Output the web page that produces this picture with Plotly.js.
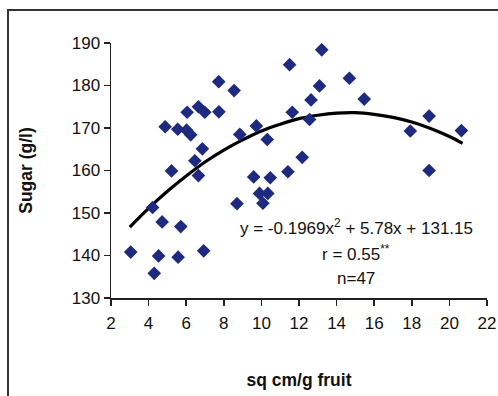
<!DOCTYPE html>
<html>
<head>
<meta charset="utf-8">
<script src="https://cdn.plot.ly/plotly-3.0.1.min.js"></script>
<style>
  html, body { margin: 0; padding: 0; background: #fff; }
  #wrap { position: relative; width: 498px; height: 396px; overflow: hidden; }
  #frame { position: absolute; left: 7px; top: 9px; width: 600px; height: 600px;
           border-left: 2px solid #333; border-top: 2px solid #333; pointer-events: none; }
  #chart { position: absolute; left: 0; top: 0; width: 498px; height: 396px; }
</style>
</head>
<body>
<div id="wrap">
  <div id="chart"></div>
  <div id="frame"></div>
</div>
<script>
// Scatter data: sq cm/g fruit vs sugar (g/l)
var areaX = [3.05, 4.21, 4.30, 4.53, 4.72, 4.88, 5.22, 5.55, 5.57, 5.71,
             6.02, 6.05, 6.24, 6.46, 6.65, 6.65, 6.86, 6.93, 6.99, 7.73,
             7.74, 8.55, 8.70, 8.85, 9.59, 9.73, 9.90, 10.08, 10.31, 10.34,
             10.47, 11.41, 11.50, 11.64, 12.17, 12.56, 12.64, 13.09, 13.21, 14.68,
             15.47, 17.92, 18.92, 18.92, 20.64];
var sugarY = [140.8, 151.3, 135.8, 139.9, 147.9, 170.3, 159.9, 169.7, 139.6, 146.8,
              169.5, 173.7, 168.4, 162.3, 175.0, 158.8, 165.1, 141.1, 173.7, 180.9,
              173.8, 178.8, 152.2, 168.5, 158.5, 170.5, 154.6, 152.3, 167.3, 154.6,
              158.3, 159.7, 184.9, 173.7, 163.1, 172.0, 176.6, 179.9, 188.4, 181.7,
              176.8, 169.3, 172.8, 160.0, 169.4];

// Trend curve
var trendX = [3, 4, 5, 6, 7, 8, 9, 10, 11, 12, 13, 14, 15, 16, 17, 18, 19, 20, 20.7];
var trendY = [146.7, 151.1, 155.1, 158.7, 162.0, 164.8, 167.2, 169.3, 170.9, 172.2,
              173.0, 173.5, 173.6, 173.2, 172.5, 171.4, 169.9, 168.0, 166.4];

var xTicks = [2, 4, 6, 8, 10, 12, 14, 16, 18, 20, 22];
var yTicks = [130, 140, 150, 160, 170, 180, 190];

var traces = [
  {
    x: trendX, y: trendY, type: 'scatter', mode: 'lines',
    line: { color: '#000', width: 3.2, shape: 'spline' },
    hoverinfo: 'skip', showlegend: false
  },
  {
    x: areaX, y: sugarY, type: 'scatter', mode: 'markers',
    marker: { symbol: 'diamond', size: 10.5, color: '#1e2a80' },
    showlegend: false
  }
];

var font = { family: 'Liberation Sans, Arial, sans-serif', size: 17, color: '#111' };
var titleFont = { family: 'Liberation Sans, Arial, sans-serif', size: 17.5, color: '#111' };

var layout = {
  width: 498, height: 396,
  margin: { l: 111, r: 11, t: 43, b: 98 },
  paper_bgcolor: '#fff', plot_bgcolor: '#fff',
  font: font,
  showlegend: false,
  xaxis: {
    range: [2, 22], tickvals: xTicks, ticktext: xTicks.map(String),
    showgrid: false, zeroline: false, showline: true, linecolor: '#222', linewidth: 1.5,
    ticks: 'outside', ticklen: 6, tickcolor: '#222', tickwidth: 1.5,
    tickfont: font, ticklabelstandoff: 3,
    title: { text: '<b>sq cm/g fruit</b>', font: titleFont, standoff: 42 }
  },
  yaxis: {
    range: [130, 190], tickvals: yTicks, ticktext: yTicks.map(String),
    showgrid: false, zeroline: false, showline: true, linecolor: '#222', linewidth: 1.5,
    ticks: 'outside', ticklen: 6, tickcolor: '#222', tickwidth: 1.5,
    tickfont: font,
    title: { text: '<b>Sugar (g/l)</b>', font: titleFont, standoff: 34 }
  },
  annotations: [
    { xref: 'x', yref: 'y', x: 15.05, y: 146.6, showarrow: false,
      text: 'y = -0.1969x<sup>2</sup> + 5.78x + 131.15', font: font },
    { xref: 'x', yref: 'y', x: 15.05, y: 140.6, showarrow: false,
      text: 'r = 0.55<sup>**</sup>', font: font },
    { xref: 'x', yref: 'y', x: 15.05, y: 134.7, showarrow: false,
      text: 'n=47', font: font }
  ]
};

Plotly.newPlot('chart', traces, layout, { displayModeBar: false, staticPlot: true });
</script>
</body>
</html>
